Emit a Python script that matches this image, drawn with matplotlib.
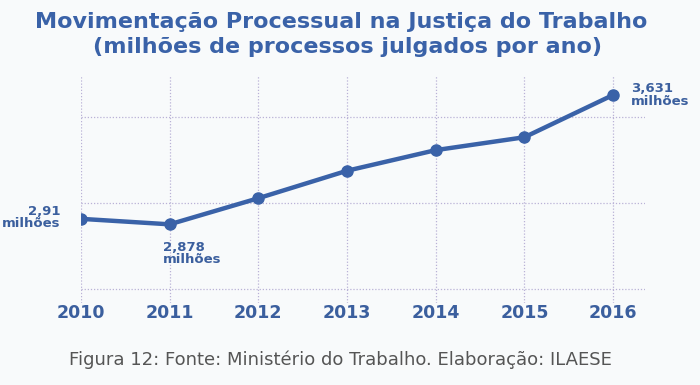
import matplotlib.pyplot as plt

anos = [2010, 2011, 2012, 2013, 2014, 2015, 2016]
julgados = [2.91, 2.878, 3.03, 3.19, 3.31, 3.385, 3.631]
rotulos = {2010: '2,91\nmilhões', 2011: '2,878\nmilhões', 2016: '3,631\nmilhões'}

azul = '#3a62a8'
azul_txt = '#3b5f9e'
grade = '#b9b2d6'

fig = plt.figure(figsize=(7, 3.85), dpi=100, facecolor='#f8fafb')
ax = fig.add_axes([0.1157, 0.213, 0.8057, 0.592])
ax.set_facecolor('#f8fafb')

ax.plot(anos, julgados, color=azul, linewidth=3.2, marker='o', markersize=8,
        solid_capstyle='round', zorder=3)

ax.set_xlim(2010, 2016.36)
ax.set_ylim(2.42, 3.747)
ax.set_xticks(anos)
ax.set_xticklabels([str(a) for a in anos], fontsize=12.5, fontweight='bold', color=azul_txt)
ax.set_yticks([2.5, 3.0, 3.5])
ax.tick_params(axis='y', left=False, labelleft=False)
ax.tick_params(axis='x', length=0, pad=0.5)
for s in ax.spines.values():
    s.set_visible(False)
ax.grid(True, color=grade, linestyle=(0, (1, 1.5)), linewidth=0.9)

# rótulos dos pontos
ax.annotate(rotulos[2010], (2010, julgados[0]), xytext=(-15, 1), textcoords='offset points',
            ha='right', va='center', fontsize=9.5, fontweight='bold', color=azul_txt, linespacing=0.95)
ax.annotate(rotulos[2011], (2011, julgados[1]), xytext=(-5, -12), textcoords='offset points',
            ha='left', va='top', fontsize=9.5, fontweight='bold', color=azul_txt, linespacing=0.95)
ax.annotate(rotulos[2016], (2016, julgados[6]), xytext=(13, 0), textcoords='offset points',
            ha='left', va='center', fontsize=9.5, fontweight='bold', color=azul_txt, linespacing=0.95)

fig.text(0.488, 0.943, 'Movimentação Processual na Justiça do Trabalho', ha='center', va='center',
         fontsize=16, fontweight='heavy', color=azul)
fig.text(0.497, 0.877, '(milhões de processos julgados por ano)', ha='center', va='center',
         fontsize=16, fontweight='heavy', color=azul)
fig.text(0.487, 0.065, 'Figura 12: Fonte: Ministério do Trabalho. Elaboração: ILAESE',
         ha='center', va='center', fontsize=13, color='#555555',
         family=['Liberation Sans Narrow', 'DejaVu Sans'])

fig.savefig('out.png', dpi=100, facecolor=fig.get_facecolor())
